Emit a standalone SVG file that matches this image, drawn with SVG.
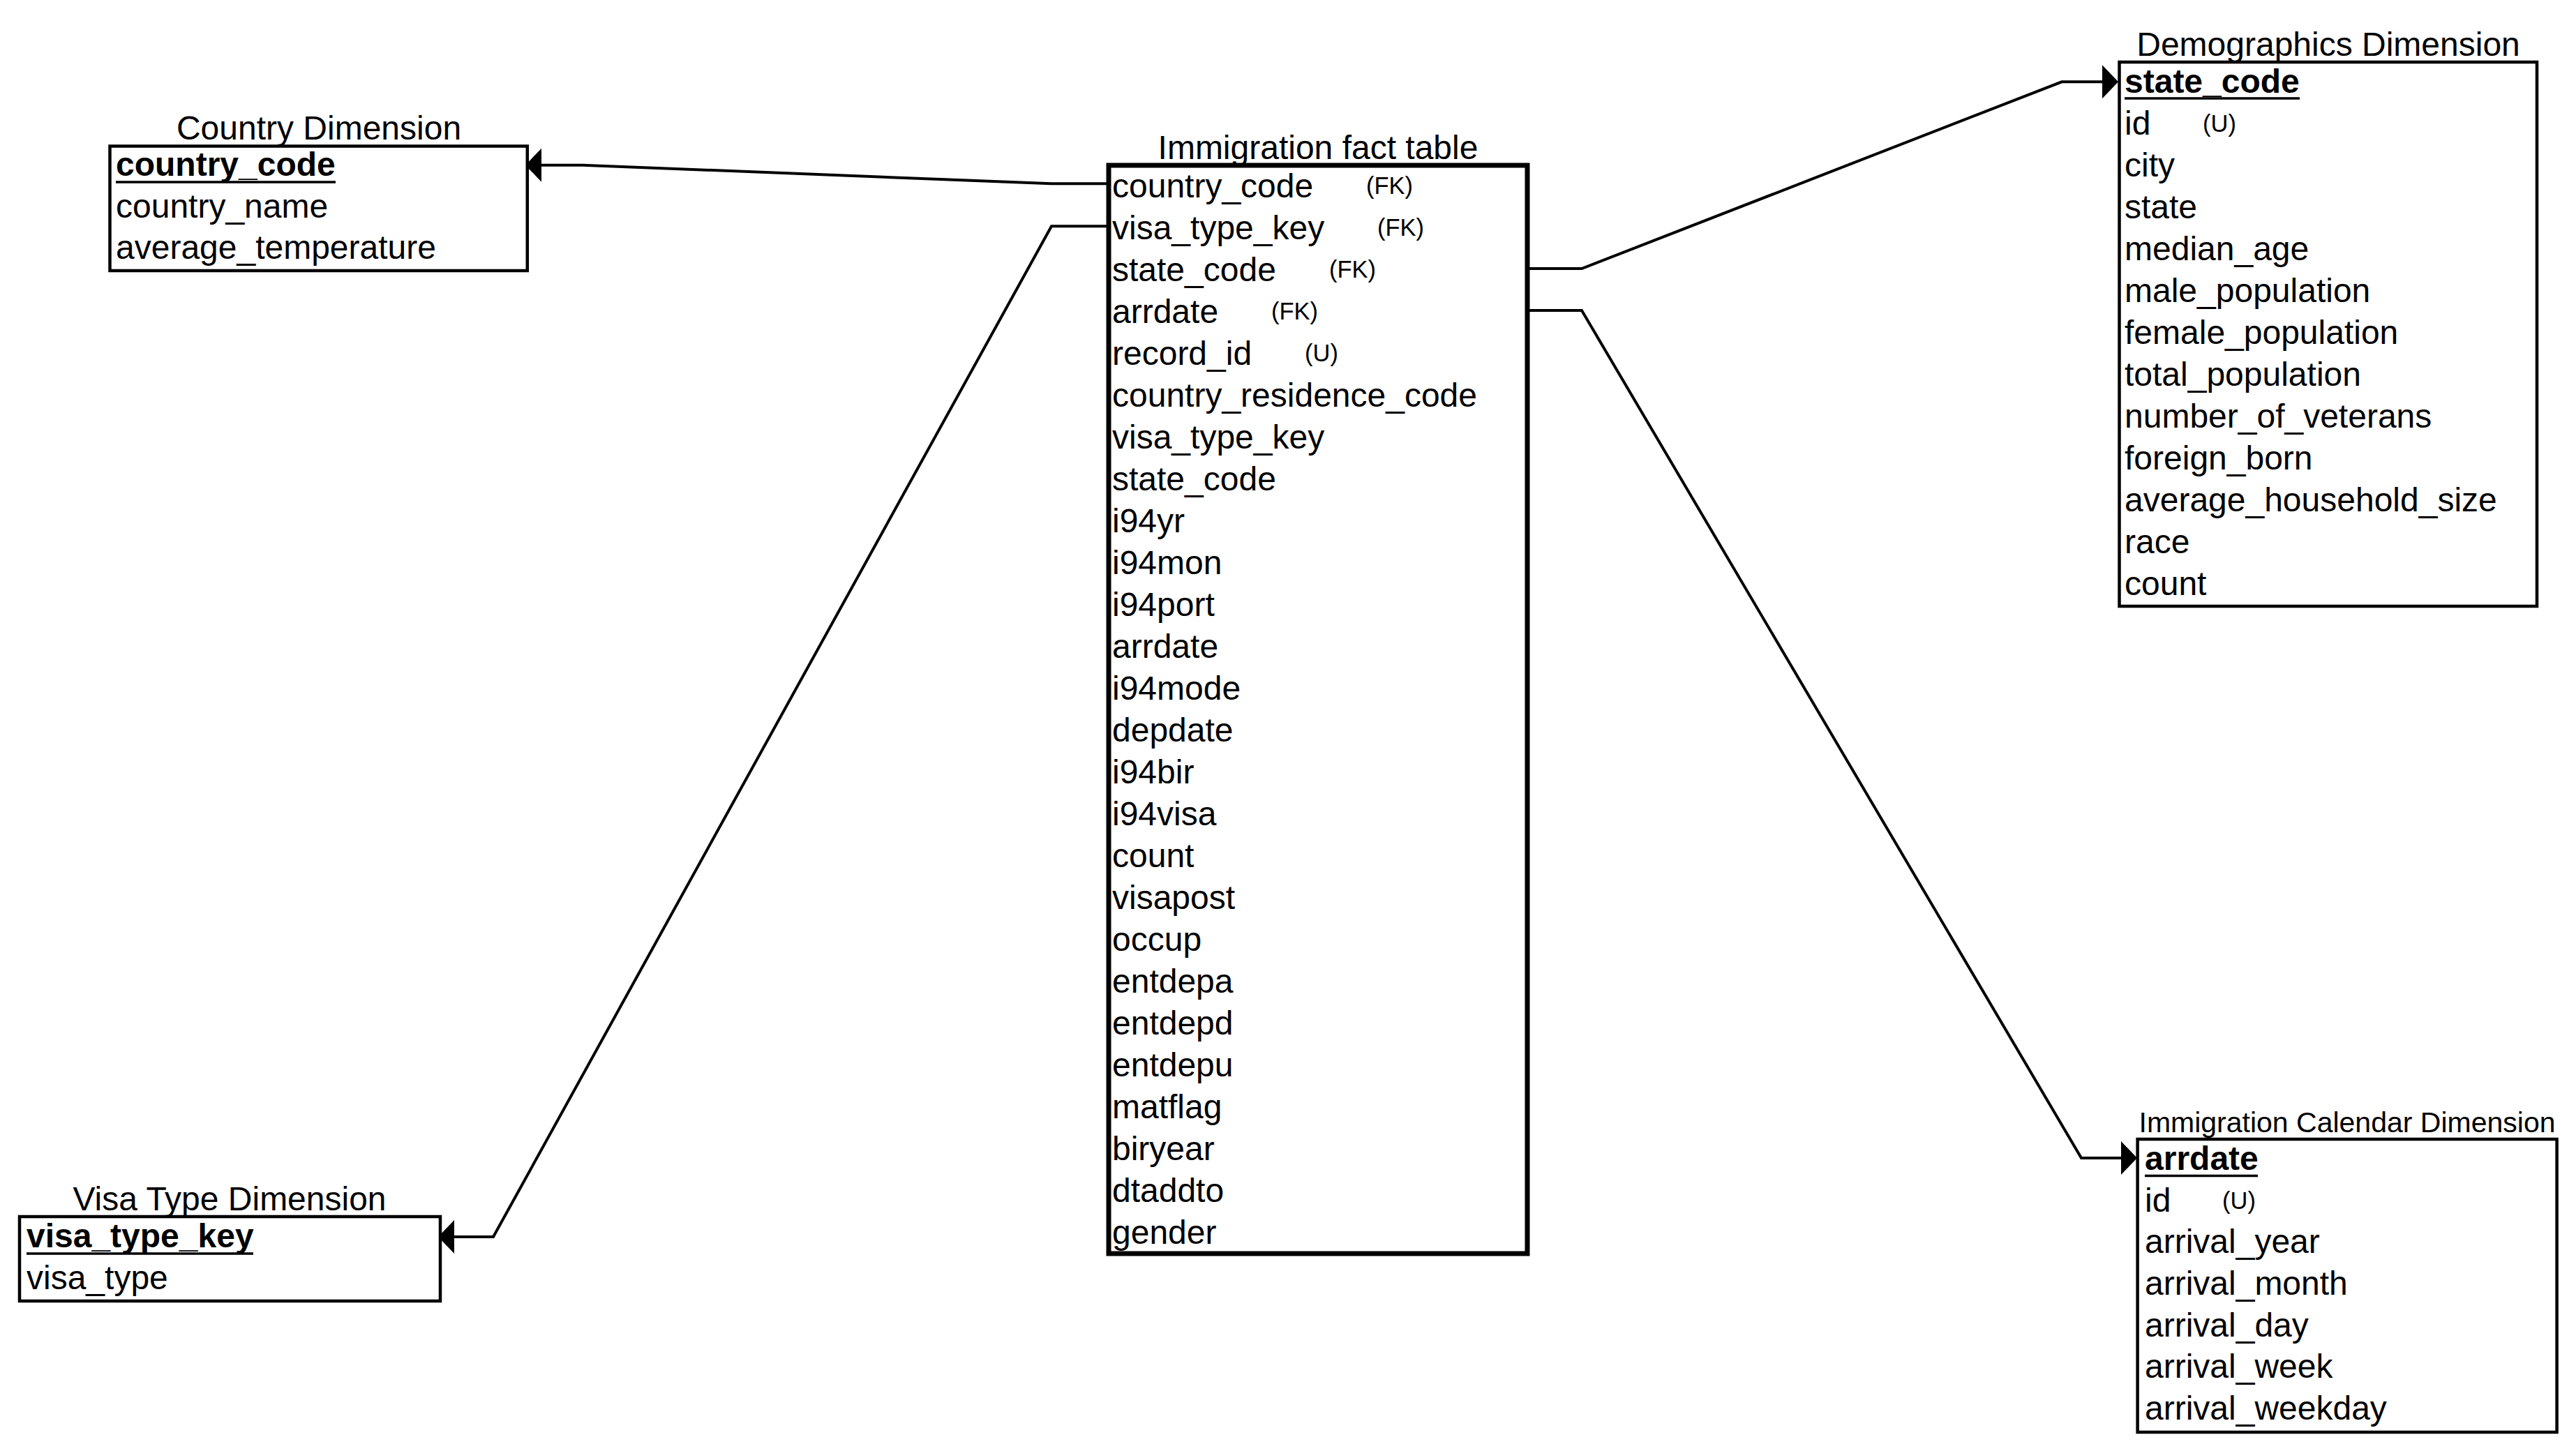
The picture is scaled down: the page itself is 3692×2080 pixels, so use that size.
<svg xmlns="http://www.w3.org/2000/svg" width="3692" height="2080" viewBox="0 0 3692 2080">
<style>
text { font-family: "Liberation Sans", Arial, Helvetica, sans-serif; font-size: 48px; fill: #000; }
.ttl { text-anchor: middle; }
.cal { font-size: 41px; }
.b { font-weight: bold; }
.s { font-size: 34.5px; }
.box { fill: #fff; stroke: #000; stroke-width: 4.5; }
.fact { fill: #fff; stroke: #000; stroke-width: 7; }
.ul { stroke: #000; stroke-width: 3.5; }
.conn { fill: none; stroke: #000; stroke-width: 4; }
</style>
<defs>
<marker id="arr" markerUnits="userSpaceOnUse" viewBox="0 -25 24 50" markerWidth="24" markerHeight="50" refX="0" refY="0" orient="auto">
<path d="M0,-24 L23,0 L0,24 Z" fill="#000"/>
</marker>
</defs>
<rect width="3692" height="2080" fill="#fff"/>

<g id="connectors">
<path class="conn" d="M1589,263.3 L1507,263.3 L835,236.7 L776,236.7" marker-end="url(#arr)"/>
<path class="conn" d="M1589,324.3 L1507,324.3 L707,1773 L651,1773" marker-end="url(#arr)"/>
<path class="conn" d="M2189,385 L2267,385 L2955,117.3 L3013,117.3" marker-end="url(#arr)"/>
<path class="conn" d="M2189,445 L2267,445 L2983,1660 L3040,1660" marker-end="url(#arr)"/>
</g>

<g id="country-dimension">
<text class="ttl" x="457" y="200">Country Dimension</text>
<rect class="box" x="157.5" y="209.5" width="598.3" height="178.5"/>
<text class="b" x="166" y="251.5">country_code</text>
<line class="ul" x1="166" y1="261" x2="481" y2="261"/>
<text x="166" y="311.5">country_name</text>
<text x="166" y="371">average_temperature</text>
</g>

<g id="visa-type-dimension">
<text class="ttl" x="329" y="1735">Visa Type Dimension</text>
<rect class="box" x="28" y="1744" width="603" height="121"/>
<text class="b" x="38" y="1788">visa_type_key</text>
<line class="ul" x1="38" y1="1797" x2="363" y2="1797"/>
<text x="38" y="1848">visa_type</text>
</g>

<g id="immigration-fact-table">
<text class="ttl" x="1889" y="228">Immigration fact table</text>
<rect class="fact" x="1589" y="237" width="600" height="1560"/>
<text x="1594" y="283">country_code</text><text class="s" x="1958" y="278">(FK)</text>
<text x="1594" y="343">visa_type_key</text><text class="s" x="1974" y="338">(FK)</text>
<text x="1594" y="403">state_code</text><text class="s" x="1905" y="398">(FK)</text>
<text x="1594" y="463">arrdate</text><text class="s" x="1822" y="458">(FK)</text>
<text x="1594" y="523">record_id</text><text class="s" x="1870" y="518">(U)</text>
<text x="1594" y="583">country_residence_code</text>
<text x="1594" y="643">visa_type_key</text>
<text x="1594" y="703">state_code</text>
<text x="1594" y="763">i94yr</text>
<text x="1594" y="823">i94mon</text>
<text x="1594" y="883">i94port</text>
<text x="1594" y="943">arrdate</text>
<text x="1594" y="1003">i94mode</text>
<text x="1594" y="1063">depdate</text>
<text x="1594" y="1123">i94bir</text>
<text x="1594" y="1183">i94visa</text>
<text x="1594" y="1243">count</text>
<text x="1594" y="1303">visapost</text>
<text x="1594" y="1363">occup</text>
<text x="1594" y="1423">entdepa</text>
<text x="1594" y="1483">entdepd</text>
<text x="1594" y="1543">entdepu</text>
<text x="1594" y="1603">matflag</text>
<text x="1594" y="1663">biryear</text>
<text x="1594" y="1723">dtaddto</text>
<text x="1594" y="1783">gender</text>
</g>

<g id="demographics-dimension">
<text class="ttl" x="3337" y="80">Demographics Dimension</text>
<rect class="box" x="3037.5" y="89" width="598.5" height="780"/>
<text class="b" x="3045" y="133">state_code</text>
<line class="ul" x1="3045" y1="141" x2="3296" y2="141"/>
<text x="3045" y="193">id</text><text class="s" x="3157" y="189">(U)</text>
<text x="3045" y="253">city</text>
<text x="3045" y="313">state</text>
<text x="3045" y="373">median_age</text>
<text x="3045" y="433">male_population</text>
<text x="3045" y="493">female_population</text>
<text x="3045" y="553">total_population</text>
<text x="3045" y="613">number_of_veterans</text>
<text x="3045" y="673">foreign_born</text>
<text x="3045" y="733">average_household_size</text>
<text x="3045" y="793">race</text>
<text x="3045" y="853">count</text>
</g>

<g id="immigration-calendar-dimension">
<text class="ttl cal" x="3364" y="1623">Immigration Calendar Dimension</text>
<rect class="box" x="3063.6" y="1633" width="601" height="420"/>
<text class="b" x="3074" y="1677">arrdate</text>
<line class="ul" x1="3074" y1="1685.5" x2="3236" y2="1685.5"/>
<text x="3074" y="1737">id</text><text class="s" x="3185" y="1733">(U)</text>
<text x="3074" y="1796">arrival_year</text>
<text x="3074" y="1856">arrival_month</text>
<text x="3074" y="1916">arrival_day</text>
<text x="3074" y="1975">arrival_week</text>
<text x="3074" y="2035">arrival_weekday</text>
</g>
</svg>
